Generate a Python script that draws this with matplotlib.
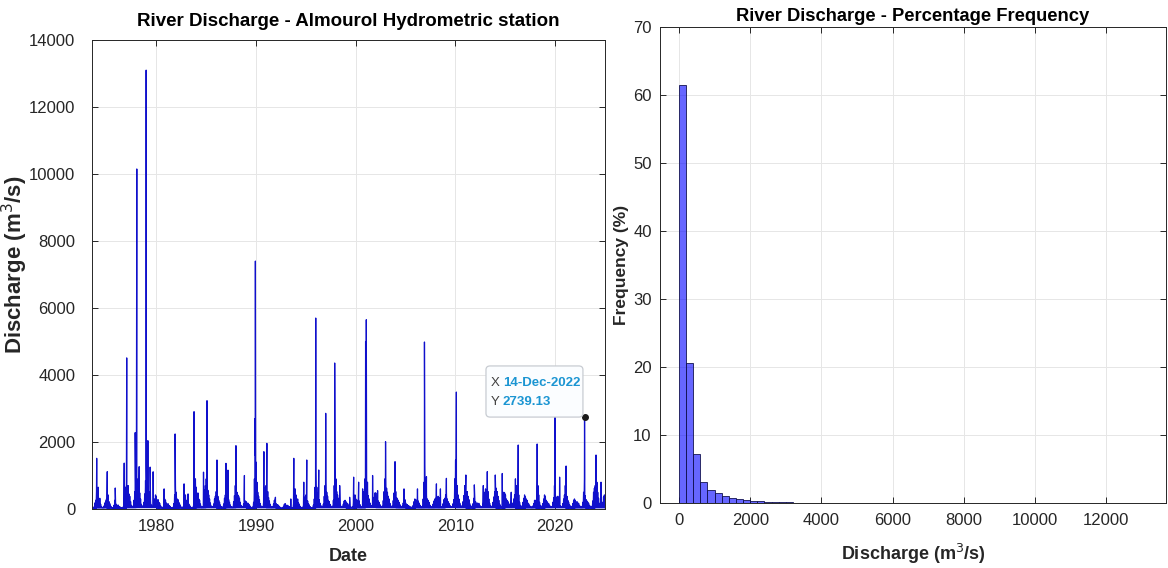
import numpy as np
import matplotlib
matplotlib.use("Agg")
import matplotlib.pyplot as plt
from matplotlib.patches import FancyBboxPatch

plt.rcParams['font.family'] = ['Liberation Sans', 'DejaVu Sans']

# ---------------- data: left panel (river discharge, m3/s) ----------------
years = list(range(1973, 2025))
# estimated monthly typical flow (Jan..Dec) for each year
monthly_flow = [
    [120, 90, 150, 80, 60, 40, 30, 25, 35, 60, 180, 260],      # 1973
    [520, 300, 650, 280, 320, 140, 70, 45, 50, 90, 180, 240],  # 1974
    [300, 180, 420, 220, 160, 90, 55, 40, 45, 110, 260, 160],  # 1975
    [140, 90, 120, 80, 70, 45, 35, 30, 60, 220, 480, 650],     # 1976
    [820, 560, 700, 450, 380, 220, 110, 70, 90, 260, 520, 900],  # 1977
    [1100, 750, 900, 600, 480, 300, 140, 80, 95, 200, 450, 850],  # 1978
    [1300, 800, 700, 520, 400, 240, 120, 70, 80, 250, 300, 420],  # 1979
    [380, 240, 280, 200, 170, 100, 60, 45, 55, 140, 300, 260],  # 1980
    [180, 120, 160, 110, 90, 60, 40, 35, 50, 160, 420, 700],    # 1981
    [500, 300, 280, 200, 150, 90, 55, 45, 60, 150, 380, 420],   # 1982
    [260, 170, 190, 150, 110, 70, 45, 40, 55, 180, 600, 900],   # 1983
    [650, 420, 480, 300, 260, 150, 80, 55, 65, 170, 560, 700],  # 1984
    [900, 620, 560, 420, 300, 180, 90, 60, 70, 150, 300, 380],  # 1985
    [520, 340, 380, 260, 200, 120, 70, 50, 60, 150, 320, 420],  # 1986
    [620, 420, 360, 280, 200, 120, 70, 50, 60, 220, 400, 700],  # 1987
    [760, 500, 420, 380, 320, 200, 100, 60, 70, 160, 280, 240],  # 1988
    [220, 160, 180, 140, 120, 80, 50, 40, 60, 200, 900, 1600],  # 1989
    [1400, 800, 500, 380, 280, 160, 90, 60, 70, 200, 500, 650],  # 1990
    [700, 480, 520, 340, 240, 140, 80, 55, 65, 150, 260, 300],  # 1991
    [160, 110, 130, 90, 80, 50, 35, 30, 40, 80, 140, 160],      # 1992
    [120, 90, 110, 80, 70, 45, 35, 30, 40, 160, 380, 600],      # 1993
    [420, 280, 300, 180, 140, 80, 50, 40, 50, 120, 220, 360],   # 1994
    [420, 260, 240, 160, 120, 70, 45, 40, 50, 120, 300, 650],   # 1995
    [1100, 650, 480, 360, 280, 170, 100, 70, 80, 150, 380, 700],  # 1996
    [800, 500, 380, 260, 220, 140, 90, 70, 80, 260, 700, 1200],  # 1997
    [900, 520, 420, 320, 260, 150, 90, 70, 80, 150, 240, 260],  # 1998
    [220, 150, 170, 120, 110, 80, 60, 50, 60, 180, 300, 420],   # 1999
    [300, 200, 260, 300, 240, 130, 80, 60, 70, 220, 520, 900],  # 2000
    [1200, 700, 800, 400, 300, 180, 110, 80, 90, 200, 350, 480],  # 2001
    [480, 300, 340, 240, 200, 130, 90, 70, 80, 250, 520, 900],  # 2002
    [900, 620, 500, 380, 300, 170, 100, 70, 80, 250, 480, 700],  # 2003
    [520, 340, 300, 260, 200, 130, 90, 70, 80, 180, 240, 280],  # 2004
    [180, 120, 130, 100, 90, 70, 55, 50, 60, 110, 220, 300],    # 2005
    [280, 220, 380, 240, 180, 120, 80, 60, 80, 300, 800, 1300],  # 2006
    [700, 420, 300, 260, 200, 120, 80, 60, 70, 150, 240, 300],  # 2007
    [320, 260, 300, 380, 340, 160, 90, 65, 75, 160, 280, 320],  # 2008
    [420, 500, 300, 220, 170, 110, 80, 65, 75, 160, 280, 900],  # 2009
    [1300, 900, 700, 420, 300, 180, 110, 80, 90, 220, 400, 700],  # 2010
    [700, 480, 520, 380, 280, 160, 100, 75, 85, 160, 320, 420],  # 2011
    [220, 170, 180, 150, 170, 110, 80, 65, 75, 200, 420, 500],  # 2012
    [600, 500, 700, 520, 300, 170, 100, 75, 85, 200, 360, 520],  # 2013
    [750, 620, 520, 380, 260, 150, 90, 70, 80, 260, 500, 480],  # 2014
    [420, 300, 260, 220, 160, 110, 80, 65, 75, 180, 300, 420],  # 2015
    [900, 700, 600, 500, 420, 200, 110, 80, 90, 200, 320, 420],  # 2016
    [360, 300, 260, 180, 150, 100, 75, 60, 65, 90, 160, 260],   # 2017
    [260, 220, 900, 700, 420, 200, 110, 80, 90, 160, 300, 420],  # 2018
    [380, 260, 220, 180, 160, 110, 80, 65, 75, 200, 340, 700],  # 2019
    [500, 360, 300, 380, 300, 160, 100, 75, 80, 160, 300, 420],  # 2020
    [700, 600, 380, 260, 200, 130, 90, 70, 80, 160, 260, 300],  # 2021
    [260, 180, 220, 180, 170, 110, 80, 65, 75, 200, 500, 900],  # 2022
    [400, 280, 240, 200, 170, 110, 85, 70, 80, 240, 500, 620],  # 2023
    [700, 600, 800, 500, 320, 170, 100, 80, 90, 200, 360, 420],  # 2024
]
# estimated low flow reached between samples within each year
annual_low = [20, 30, 25, 15, 35, 40, 40, 25, 15, 25, 20, 30, 35, 25, 30, 35,
              20, 35, 30, 10, 10, 20, 20, 35, 35, 35, 25, 30, 40, 35, 35, 30,
              20, 30, 30, 30, 40, 35, 25, 35, 35, 25, 35, 20, 30, 25, 35, 35,
              25, 30, 25, 35]

# flood peaks (decimal year, discharge)
peak_dates = [1974.04, 1975.10, 1975.90, 1976.80, 1977.05, 1977.90, 1978.06,
              1978.30, 1979.00, 1979.17, 1979.40, 1979.70, 1980.80, 1981.90,
              1982.80, 1983.20, 1983.80, 1984.75, 1985.10, 1986.10, 1987.00,
              1987.20, 1988.00, 1988.85, 1989.90, 1989.95, 1990.80, 1991.10,
              1991.96, 1993.50, 1993.80, 1994.80, 1995.10, 1996.00, 1996.30,
              1997.00, 1997.90, 1998.40, 1999.40, 1999.80, 2000.30, 2000.70,
              2001.00, 2001.07, 2001.70, 2002.20, 2003.00, 2003.95, 2004.85,
              2006.20, 2006.90, 2007.10, 2008.10, 2008.50, 2009.10, 2010.02,
              2010.10, 2011.05, 2011.90, 2012.80, 2013.20, 2014.00, 2014.70,
              2015.60, 2016.30, 2018.20, 2020.00, 2020.45, 2021.10, 2022.95,
              2024.10, 2024.60]
peak_values = [1513, 1114, 627, 1370, 4510, 2280, 10150,
               1263, 13100, 2040, 1250, 1110, 600, 2240,
               750, 450, 2905, 1100, 3233, 1463, 1363,
               1160, 1890, 1000, 2700, 7400, 1711, 1960,
               350, 300, 1513, 800, 1463, 5700, 1164,
               2856, 4358, 700, 350, 950, 800, 600,
               5000, 5650, 1000, 550, 2010, 1413, 600,
               600, 4985, 965, 750, 600, 915, 1460,
               3490, 1015, 720, 700, 1115, 1015, 1060,
               500, 1910, 1940, 2756, 950, 1283, 2739.13,
               1612, 800]

tip_date_label = "14-Dec-2022"
tip_x = 2022.95
tip_y = 2739.13

# ---------------- data: right panel (histogram, % frequency) ----------------
bin_width = 200
freq_pct = [61.4, 20.6, 7.2, 3.1, 1.9, 1.5, 1.08, 0.74, 0.54, 0.44,
            0.32, 0.24, 0.18, 0.14, 0.11, 0.09, 0.07, 0.06, 0.05, 0.04,
            0.03, 0.03, 0.02, 0.02, 0.02, 0.015, 0.015, 0.01, 0.01, 0.01,
            0.01, 0.008, 0.006, 0.005, 0.004, 0.004, 0.004, 0.003, 0.003, 0.003,
            0.003, 0.002, 0.002, 0.002, 0.002, 0.002, 0.002, 0.002, 0.002, 0.002,
            0.002, 0.002, 0.001, 0.001, 0.001, 0.001, 0.001, 0.001, 0.001, 0.001,
            0.001, 0.001, 0.001, 0.001, 0.001, 0.001]

# ---------------- build the time series ----------------
t_list, q_list = [], []
for yi, yr in enumerate(years):
    for m, val in enumerate(monthly_flow[yi]):
        t_list.append(yr + (m + 0.25) / 12.0)
        q_list.append(val)
        t_list.append(yr + (m + 0.75) / 12.0)
        q_list.append(annual_low[yi])
t_arr = np.array(t_list + peak_dates)
q_arr = np.array(q_list + peak_values, dtype=float)
order = np.argsort(t_arr)
t_arr, q_arr = t_arr[order], q_arr[order]

# ---------------- figure ----------------
W, H = 1168, 568
fig = plt.figure(figsize=(W / 100, H / 100), dpi=100)

def frac(x0, y0, x1, y1):
    return [x0 / W, 1 - y1 / H, (x1 - x0) / W, (y1 - y0) / H]

TXT = '#262626'
GRID = '#e6e6e6'

def style(ax, ypad):
    ax.grid(True, color=GRID, linewidth=0.7)
    ax.set_axisbelow(True)
    for s in ax.spines.values():
        s.set_color(TXT)
        s.set_linewidth(0.7)
    ax.tick_params(direction='in', length=4, width=0.7, color=TXT,
                   labelcolor=TXT, labelsize=12, top=True, right=True)
    ax.tick_params(axis='x', pad=7)
    ax.tick_params(axis='y', pad=ypad)

# left panel
ax1 = fig.add_axes(frac(92, 40, 605, 509))
ax1.plot(t_arr, q_arr, color='#1010cc', linewidth=0.9)
ax1.set_xlim(1973.57, 2025.0)
ax1.set_ylim(0, 14000)
ax1.set_xticks([1980, 1990, 2000, 2010, 2020])
ax1.set_yticks(np.arange(0, 14001, 2000))
style(ax1, 12)
ax1.set_title('River Discharge - Almourol Hydrometric station',
              fontsize=13.5, fontweight='bold', color='black', pad=10)
ax1.set_xlabel('Date', fontsize=13, fontweight='bold', color=TXT, labelpad=10)
ax1.set_ylabel('Discharge (m$^3$/s)', fontsize=16, fontweight='bold',
               color=TXT)
ax1.yaxis.set_label_coords(-0.12, 0.52)

# datatip
ax1.plot([tip_x], [tip_y], 'o', color='#1a1a1a', markersize=4, zorder=5)
box = FancyBboxPatch((0.768, 0.196), 0.189, 0.109,
                     boxstyle='round,pad=0,rounding_size=0.008',
                     transform=ax1.transAxes, facecolor='#fbfdff',
                     edgecolor='#c8ccd2', linewidth=0.9, zorder=6)
ax1.add_patch(box)
ax1.text(0.778, 0.268, 'X', transform=ax1.transAxes, fontsize=9.5,
         color='#404040', va='center', ha='left', zorder=7)
ax1.text(0.801, 0.268, tip_date_label, transform=ax1.transAxes, fontsize=9.5,
         color='#1b95d2', fontweight='bold', va='center', ha='left', zorder=7)
ax1.text(0.778, 0.229, 'Y', transform=ax1.transAxes, fontsize=9.5,
         color='#404040', va='center', ha='left', zorder=7)
ax1.text(0.801, 0.229, f'{tip_y:.2f}', transform=ax1.transAxes, fontsize=9.5,
         color='#1b95d2', fontweight='bold', va='center', ha='left', zorder=7)

# right panel
ax2 = fig.add_axes(frac(660, 27, 1166, 503))
edges = np.arange(len(freq_pct)) * bin_width
ax2.bar(edges, freq_pct, width=bin_width, align='edge',
        color=(0.0, 0.0, 1.0, 0.6), edgecolor='#141450', linewidth=0.6)
ax2.set_xlim(-534, 13680)
ax2.set_ylim(0, 70)
ax2.set_xticks(np.arange(0, 12001, 2000))
ax2.set_yticks(np.arange(0, 71, 10))
style(ax2, 6)
ax2.set_title('River Discharge - Percentage Frequency',
              fontsize=13.2, fontweight='bold', color='black', pad=4)
ax2.set_xlabel('Discharge (m$^3$/s)', fontsize=13, fontweight='bold',
               color=TXT, labelpad=10)
ax2.set_ylabel('Frequency (%)', fontsize=12.5, fontweight='bold',
               color=TXT, labelpad=3)

fig.savefig('out.png', dpi=100)
